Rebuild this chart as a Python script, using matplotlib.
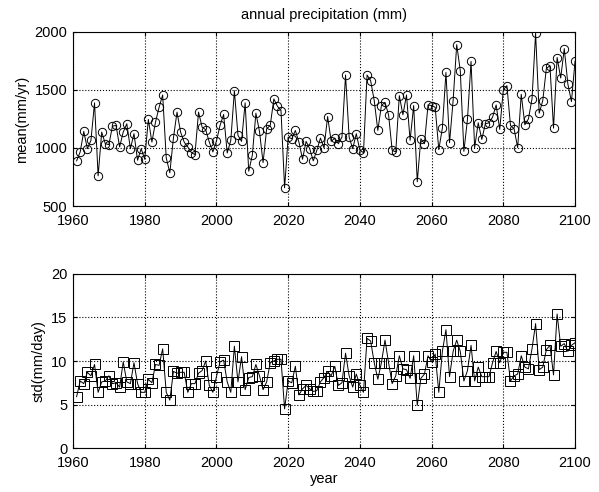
import matplotlib
matplotlib.use("Agg")
import matplotlib.pyplot as plt

# ── data ────────────────────────────────────────────────────────────────
years = list(range(1961, 2101))

mean_precip = [
    889, 966, 1143, 994, 1066, 1389, 760, 1137, 1037, 1029,      # 1961-1970
    1189, 1194, 1009, 1137, 1209, 994, 1123, 894, 994, 903,      # 1971-1980
    1246, 1051, 1223, 1351, 1457, 914, 786, 1086, 1309, 1137,    # 1981-1990
    1051, 1009, 960, 943, 1309, 1180, 1157, 1051, 966, 1060,     # 1991-2000
    1194, 1289, 957, 1066, 1494, 1109, 1057, 1389, 800, 937,     # 2001-2010
    1300, 1143, 874, 1166, 1194, 1423, 1360, 1323, 657, 1094,    # 2011-2020
    1080, 1151, 1051, 903, 1057, 994, 889, 980, 1086, 1000,      # 2021-2030
    1271, 1057, 1086, 1037, 1094, 1629, 1094, 994, 1123, 980,    # 2031-2040
    960, 1629, 1580, 1409, 1151, 1366, 1394, 1286, 980, 966,     # 2041-2050
    1451, 1286, 1457, 1066, 1366, 709, 1080, 1037, 1371, 1366,   # 2051-2060
    1351, 986, 1171, 1651, 1046, 1409, 1891, 1666, 971, 1246,    # 2061-2070
    1746, 1003, 1217, 1074, 1209, 1217, 1266, 1371, 1160, 1503,  # 2071-2080
    1537, 1194, 1166, 1003, 1463, 1200, 1251, 1423, 1989, 1300,  # 2081-2090
    1409, 1686, 1709, 1171, 1780, 1603, 1857, 1551, 1400, 1749,  # 2091-2100
]

std_precip = [
    5.9, 7.7, 7.4, 8.7, 8.3, 9.6, 6.4, 7.6, 7.7, 8.3,            # 1961-1970
    7.4, 7.5, 7.0, 9.9, 7.6, 7.4, 9.8, 7.4, 6.4, 6.4,            # 1971-1980
    7.9, 7.5, 9.6, 9.5, 11.4, 6.4, 5.5, 8.8, 8.6, 8.7,           # 1981-1990
    8.7, 6.4, 7.4, 7.4, 8.6, 8.9, 10.0, 7.2, 6.4, 8.2,           # 1991-2000
    9.9, 10.1, 7.6, 6.4, 11.7, 7.6, 10.5, 6.7, 8.1, 8.2,         # 2001-2010
    9.6, 8.3, 6.7, 7.6, 9.8, 10.0, 10.2, 10.2, 4.5, 7.7,         # 2011-2020
    7.5, 9.4, 6.1, 6.8, 7.2, 6.8, 6.5, 6.6, 7.6, 8.1,            # 2021-2030
    8.8, 8.3, 9.4, 7.2, 7.5, 10.9, 8.3, 7.0, 8.5, 7.2,           # 2031-2040
    6.4, 12.6, 12.3, 9.8, 7.9, 9.8, 12.4, 9.8, 7.4, 8.3,         # 2041-2050
    10.6, 9.1, 9.0, 8.0, 10.6, 4.9, 8.0, 8.5, 10.6, 9.9,         # 2051-2060
    10.8, 6.4, 11.1, 13.6, 8.2, 11.1, 12.4, 11.1, 7.7, 8.9,      # 2061-2070
    11.8, 7.7, 9.3, 8.2, 8.2, 8.2, 9.8, 11.1, 9.8, 11.0,         # 2071-2080
    11.0, 7.7, 8.3, 8.5, 10.6, 9.3, 9.1, 11.4, 14.3, 9.0,        # 2081-2090
    9.3, 11.3, 11.8, 8.4, 15.4, 11.7, 12.0, 11.1, 11.8, 12.1,    # 2091-2100
]

x_ticks = list(range(1960, 2101, 20))
mean_ticks = [500, 1000, 1500, 2000]
std_ticks = [0, 5, 10, 15, 20]

plt.rcParams["font.family"] = ["Liberation Sans", "DejaVu Sans"]
plt.rcParams["font.size"] = 10.5


def style_axes(ax):
    ax.set_xlim(1960, 2100)
    ax.set_xticks(x_ticks)
    ax.grid(True, linestyle=":", color="black", linewidth=0.8)
    ax.tick_params(direction="in", top=True, right=True, length=3,
                   labelsize=10.5)
    ax.tick_params(axis="x", pad=6)
    ax.tick_params(axis="y", pad=4)
    for s in ax.spines.values():
        s.set_linewidth(0.8)


fig = plt.figure(figsize=(5.99, 4.92), dpi=100)

ax1 = fig.add_axes([0.1219, 0.5813, 0.8381, 0.3537])
ax1.plot(years, mean_precip, "-", color="black", linewidth=0.7,
         marker="o", markersize=6, markerfacecolor="none",
         markeredgecolor="black", markeredgewidth=0.7)
style_axes(ax1)
ax1.set_ylim(500, 2000)
ax1.set_yticks(mean_ticks)
ax1.set_ylabel("mean(mm/yr)")
ax1.set_title("annual precipitation (mm)", fontsize=10.5, pad=9)

ax2 = fig.add_axes([0.1219, 0.0894, 0.8381, 0.3537])
ax2.plot(years, std_precip, "-", color="black", linewidth=0.7,
         marker="s", markersize=6.5, markerfacecolor="none",
         markeredgecolor="black", markeredgewidth=0.7)
style_axes(ax2)
ax2.set_ylim(0, 20)
ax2.set_yticks(std_ticks)
ax2.set_ylabel("std(mm/day)")
ax2.set_xlabel("year", labelpad=1)

fig.savefig("out.png", dpi=100)
